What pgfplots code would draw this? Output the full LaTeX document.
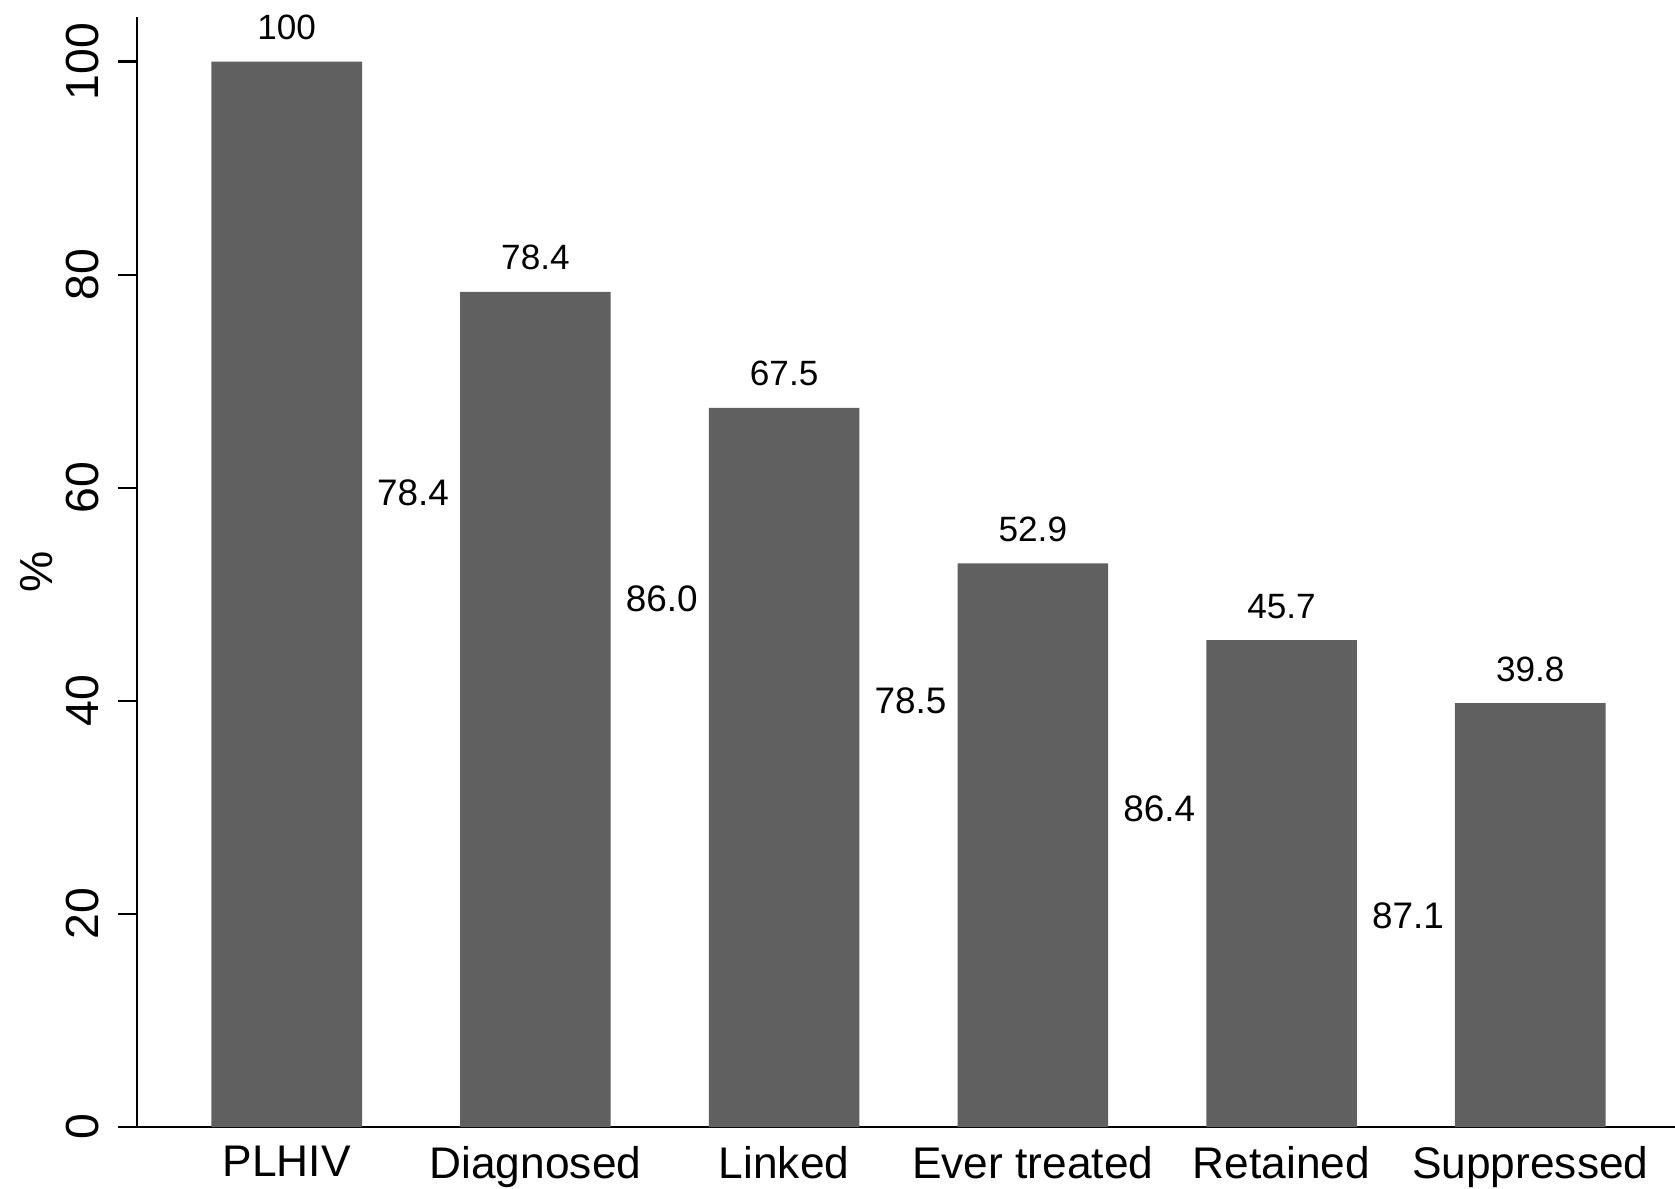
\documentclass[border=0pt]{standalone}
\usepackage{fontspec}
\setmainfont{Liberation Sans}
\usepackage{pgfplots}
\pgfplotsset{compat=1.18}
\definecolor{barfill}{RGB}{96,96,96}

\pgfplotstableread{
x y lab
0 100  100
1 78.4 78.4
2 67.5 67.5
3 52.9 52.9
4 45.7 45.7
5 39.8 39.8
}\cascade

\pgfplotstableread{
x y lab
0.5 59.5 78.4
1.5 49.6 86.0
2.5 40.0 78.5
3.5 29.9 86.4
4.5 19.8 87.1
}\conversion

\begin{document}
\begin{tikzpicture}
\useasboundingbox (-13.7mm,-6.1mm) rectangle (153.8mm,112.7mm);
\begin{axis}[
    scale only axis,
    width=153.8mm, height=111mm,
    xmin=-0.602, xmax=5.582, ymin=0, ymax=104.2,
    axis x line*=bottom, axis y line*=left,
    axis line style={line width=0.25mm, black},
    xtick={0,...,5},
    xticklabels={PLHIV,Diagnosed,Linked,Ever treated,Retained,Suppressed},
    x tick style={draw=none},
    ytick={0,20,...,100},
    tick align=outside,
    major tick length=1.9mm,
    y tick style={line width=0.25mm, black},
    xticklabel style={font=\fontsize{12.6}{15}\selectfont, yshift=1.2mm},
    yticklabel style={font=\fontsize{13.2}{15}\selectfont, rotate=90, anchor=base, yshift=1.95mm},
    /pgf/number format/assume math mode=true,
    ylabel={\%},
    ylabel style={at={([xshift=-10mm]axis description cs:0,0.5)}, anchor=center, font=\fontsize{13.2}{15}\selectfont},
    clip=false,
]
\addplot[ybar, bar width=15.06mm, fill=barfill, draw=none,
    nodes near coords, point meta=explicit symbolic,
    nodes near coords style={font=\fontsize{10}{12}\selectfont, anchor=base, yshift=2.2mm, text=black}]
    table[x=x, y=y, meta=lab] {\cascade};
\addplot[draw=none,
    nodes near coords, point meta=explicit symbolic,
    nodes near coords style={font=\fontsize{10.5}{12}\selectfont, anchor=center, text=black, xshift=0.2mm}]
    table[x=x, y=y, meta=lab] {\conversion};
\end{axis}
\end{tikzpicture}
\end{document}
